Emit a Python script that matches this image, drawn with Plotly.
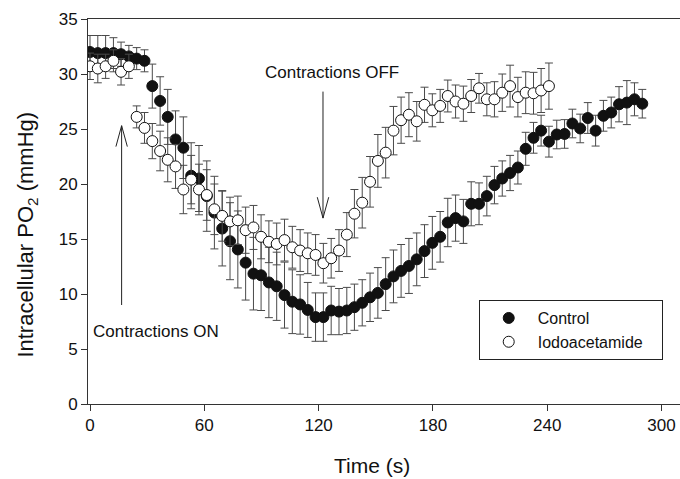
import plotly.graph_objects as go

# Sampling times (s), shared by both recordings
time_s = [0, 4.1, 8.2, 12.3, 16.3, 20.4, 24.5, 28.6, 32.7, 36.8, 40.8, 44.9,
          49.0, 53.1, 57.2, 61.3, 65.3, 69.4, 73.5, 77.6, 81.7, 85.8, 89.8, 93.9,
          98.0, 102.1, 106.2, 110.3, 114.3, 118.4, 122.5, 126.6, 130.7, 134.8, 138.8, 142.9,
          147.0, 151.1, 155.2, 159.3, 163.3, 167.4, 171.5, 175.6, 179.7, 183.8, 187.8, 191.9,
          196.0, 200.1, 204.2, 208.3, 212.3, 216.4, 220.5, 224.6, 228.7, 232.8, 236.8, 240.9,
          245.0, 249.1, 253.2, 257.3, 261.3, 265.4, 269.5, 273.6, 277.7, 281.8, 285.8, 289.9]

# Control: mean intracellular PO2 (mmHg) and SEM
control_po2 = [32.0, 31.9, 31.9, 31.9, 31.8, 31.6, 31.4, 31.2, 28.9, 27.55, 26.1, 24.05,
               23.3, 20.75, 20.5, 18.9, 17.4, 15.95, 14.8, 14.05, 12.85, 11.85, 11.7, 11.05,
               10.7, 9.9, 9.3, 9.05, 8.55, 7.9, 7.9, 8.5, 8.4, 8.5, 8.8, 9.2,
               9.7, 10.1, 10.9, 11.6, 12.1, 12.55, 13.15, 13.9, 14.65, 15.2, 16.5, 16.9,
               16.6, 18.2, 18.2, 18.9, 19.9, 20.5, 21.0, 21.5, 23.2, 24.2, 24.85, 23.85,
               24.5, 24.55, 25.5, 25.05, 26.0, 24.85, 26.2, 26.5, 27.25, 27.4, 27.7, 27.3]
control_sem = [1.5, 1.6, 1.6, 1.4, 1.1, 1.0, 1.0, 1.0, 2.0, 2.2, 2.5, 2.6,
               2.8, 3.0, 3.0, 3.2, 3.3, 3.4, 3.5, 3.5, 3.4, 3.3, 3.2, 3.2,
               3.1, 3.0, 2.9, 2.7, 2.5, 2.2, 2.2, 2.2, 2.1, 2.1, 2.1, 2.1,
               2.2, 2.3, 2.4, 2.4, 2.4, 2.5, 2.4, 2.4, 2.4, 2.3, 2.2, 2.1,
               2.0, 2.0, 1.9, 1.8, 1.7, 1.6, 1.6, 1.5, 1.5, 1.4, 1.4, 1.4,
               1.3, 1.3, 1.3, 1.3, 1.4, 1.4, 1.4, 1.4, 1.6, 2.0, 1.5, 1.3]

# Iodoacetamide: mean intracellular PO2 (mmHg) and SEM (first 60 samples)
iodo_po2 = [30.7, 30.5, 30.7, 31.2, 30.2, 30.7, 26.1, 25.1, 23.9, 23.0, 22.2, 21.6,
            19.5, 20.4, 19.5, 19.0, 17.7, 17.1, 16.6, 16.7, 15.8, 16.05, 15.2, 14.75,
            14.55, 14.9, 14.25, 13.95, 13.7, 13.55, 12.8, 13.25, 13.95, 15.4, 17.3, 18.3,
            20.2, 22.1, 22.85, 24.85, 25.8, 26.3, 25.7, 27.2, 26.7, 27.1, 28.0, 27.5,
            27.3, 28.0, 28.7, 27.7, 27.7, 28.3, 28.9, 27.9, 28.3, 28.25, 28.5, 28.9]
iodo_sem = [1.2, 1.3, 1.1, 1.0, 1.2, 1.1, 1.0, 1.4, 1.6, 1.8, 2.0, 2.0,
            2.2, 2.2, 2.3, 2.3, 2.3, 2.3, 2.2, 2.2, 2.1, 2.0, 2.0, 1.9,
            1.9, 1.9, 1.9, 1.9, 1.85, 1.85, 1.8, 1.8, 1.9, 2.0, 2.2, 2.3,
            2.3, 2.4, 2.3, 2.2, 2.1, 2.0, 1.8, 1.6, 1.5, 1.5, 1.45, 1.5,
            1.6, 1.5, 1.35, 1.5, 1.6, 1.7, 1.9, 1.8, 1.9, 1.9, 2.0, 2.1]

x_ticks = [0, 60, 120, 180, 240, 300]
y_ticks = [0, 5, 10, 15, 20, 25, 30, 35]

FONT = "Liberation Sans, Arial, sans-serif"
INK = "#111111"

fig = go.Figure()

fig.add_trace(go.Scatter(
    x=time_s, y=control_po2, mode="markers", name="Control",
    marker=dict(symbol="circle", size=11, color=INK, line=dict(color=INK, width=1)),
    error_y=dict(type="data", array=control_sem, color="#4a4a4a", thickness=1, width=4),
))
fig.add_trace(go.Scatter(
    x=time_s[:len(iodo_po2)], y=iodo_po2, mode="markers",
    name="Iodoacetamide\u00a0\u00a0\u00a0",
    marker=dict(symbol="circle", size=11, color="white", line=dict(color=INK, width=1)),
    error_y=dict(type="data", array=iodo_sem, color="#4a4a4a", thickness=1, width=4),
))

# Event arrows: thin shaft with an open V head
def v_arrow(x, y_tail, y_head, dx=3.0, dy=1.9):
    sign = 1 if y_head < y_tail else -1
    fig.add_shape(type="line", x0=x, x1=x, y0=y_tail, y1=y_head,
                  line=dict(color="#222222", width=1))
    fig.add_shape(type="path",
                  path=f"M {x-dx},{y_head+sign*dy} L {x},{y_head} L {x+dx},{y_head+sign*dy}",
                  line=dict(color="#222222", width=1))

v_arrow(16.6, 9.0, 25.3)
v_arrow(122.3, 28.4, 16.9)

fig.add_annotation(x=0.5, y=6.6, text="Contractions ON", showarrow=False,
                   xanchor="left", yanchor="middle",
                   font=dict(family=FONT, size=17, color=INK))
fig.add_annotation(x=122.3, y=30.1, text="Contractions OFF", showarrow=False,
                   xanchor="center", yanchor="middle", xshift=9,
                   font=dict(family=FONT, size=17, color=INK))

# Axis titles
fig.add_annotation(xref="paper", yref="paper", x=-0.103, y=0.44,
                   text="Intracellular PO<sub>2</sub> (mmHg)", textangle=-90,
                   showarrow=False, xanchor="center", yanchor="middle",
                   font=dict(family=FONT, size=22, color=INK))
fig.add_annotation(xref="paper", yref="paper", x=0.4797, y=-0.161,
                   text="Time (s)", showarrow=False, xanchor="center", yanchor="middle",
                   font=dict(family=FONT, size=21, color=INK))

fig.update_layout(
    width=680, height=479,
    margin=dict(l=88, r=0, t=19, b=75),
    paper_bgcolor="white", plot_bgcolor="white",
    font=dict(family=FONT, size=16, color=INK),
    showlegend=True,
    legend=dict(x=0.66, y=0.27, xanchor="left", yanchor="top",
                bordercolor="#222222", borderwidth=1, bgcolor="white",
                font=dict(family=FONT, size=16, color=INK),
                itemwidth=48, tracegroupgap=0),
    xaxis=dict(range=[-1.05, 309.7], tickvals=x_ticks, ticks="outside", ticklen=6,
               tickcolor="#333", showline=True, linecolor="#333", linewidth=1,
               mirror=True, showgrid=False, zeroline=False,
               tickfont=dict(family=FONT, size=17)),
    yaxis=dict(range=[0, 35], tickvals=y_ticks, ticks="outside", ticklen=6,
               tickcolor="#333", showline=True, linecolor="#333", linewidth=1,
               showgrid=False, zeroline=False,
               tickfont=dict(family=FONT, size=17)),
)

fig.write_html("out.html")
